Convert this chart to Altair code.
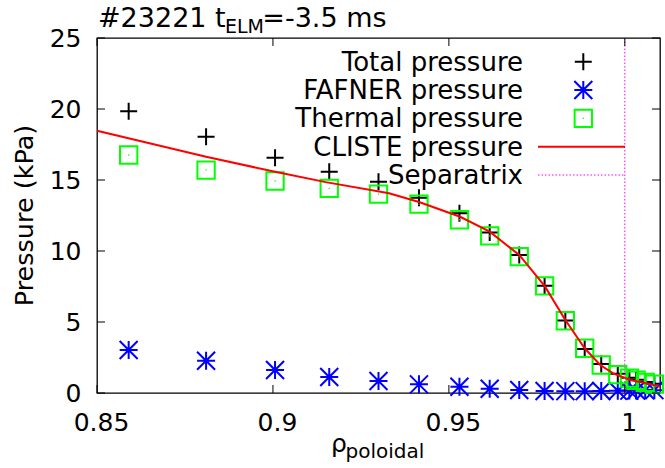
import altair as alt
import pandas as pd

FONT = "DejaVu Sans"

# ---- data ----
rho = [0.859, 0.881, 0.9006, 0.916, 0.930, 0.9415, 0.953, 0.9616, 0.970, 0.9772,
       0.9831, 0.9886, 0.9933, 0.998, 1.0013, 1.0032, 1.0058, 1.0084]
total_p = [19.84, 18.05, 16.57, 15.58, 14.88, 13.75, 12.65, 11.3, 9.72, 7.55,
           5.1, 3.1, 2.05, 1.35, 1.08, 0.93, 0.78, 0.65]
fafner_p = [3.03, 2.27, 1.62, 1.13, 0.85, 0.61, 0.44, 0.30, 0.21, 0.14,
            0.13, 0.13, 0.14, 0.16, 0.17, 0.18, 0.19, 0.2]
thermal_p = [16.76, 15.70, 14.93, 14.41, 14.01, 13.3, 12.2, 11.06, 9.6, 7.54,
             5.09, 3.15, 1.97, 1.3, 1.05, 0.9, 0.75, 0.62]
cliste_rho = [0.85, 0.881, 0.9006, 0.915, 0.933, 0.9415, 0.9532, 0.9616, 0.970,
              0.9772, 0.9831, 0.9886, 0.993, 0.9967, 1.0015, 1.006, 1.01]
cliste_p = [18.47, 16.64, 15.58, 14.85, 14.06, 13.45, 12.41, 11.36, 9.72,
            7.54, 5.14, 3.15, 1.97, 1.38, 0.92, 0.68, 0.45]
separatrix_rho = [1.0]
x_ticks = [0.85, 0.9, 0.95, 1.0]
y_ticks = [0, 5, 10, 15, 20, 25]
legend_names = ["Total pressure", "FAFNER pressure", "Thermal pressure",
                "CLISTE pressure", "Separatrix"]

W, H = 563, 355

xscale = alt.Scale(domain=[0.85, 1.01], nice=False, zero=False)
yscale = alt.Scale(domain=[0, 25], nice=False, zero=True)

xaxis = alt.Axis(values=x_ticks, format="~g", grid=False, ticks=False, domain=False,
                 labelFont=FONT, labelFontSize=25, labelColor="black",
                 labelPadding=17, labelOffset=4, labelFlush=False, labelOverlap=False,
                 title=None)
yaxis = alt.Axis(values=y_ticks, grid=False, ticks=False, domain=False,
                 labelFont=FONT, labelFontSize=25, labelColor="black",
                 labelPadding=16, labelFlush=False, labelOverlap=False,
                 title=None)

CROSS = "M-1,0L1,0M0,-1L0,1"
STAR = "M-1,0L1,0M0,-1L0,1M-1,-1L1,1M-1,1L1,-1"

pts = pd.DataFrame({"rho": rho, "total": total_p, "fafner": fafner_p, "thermal": thermal_p})
line_df = pd.DataFrame({"rho": cliste_rho, "p": cliste_p})

X = alt.X("rho:Q", scale=xscale, axis=xaxis)

total_layer = alt.Chart(pts).mark_point(shape=CROSS, size=289, strokeWidth=2,
                                        color="black", filled=False, opacity=1).encode(
    x=X, y=alt.Y("total:Q", scale=yscale, axis=yaxis))
fafner_layer = alt.Chart(pts).mark_point(shape=STAR, size=324, strokeWidth=2,
                                         color="#0000ff", filled=False, opacity=1).encode(
    x=alt.X("rho:Q", scale=xscale), y=alt.Y("fafner:Q", scale=yscale))
thermal_layer = alt.Chart(pts).mark_point(shape="square", size=300, strokeWidth=2,
                                          color="#00ff00", filled=False, opacity=1).encode(
    x=alt.X("rho:Q", scale=xscale), y=alt.Y("thermal:Q", scale=yscale))
thermal_dot = alt.Chart(pts).mark_point(shape="circle", size=2, filled=True,
                                        color="#00ff00", opacity=1).encode(
    x=alt.X("rho:Q", scale=xscale), y=alt.Y("thermal:Q", scale=yscale))
cliste_layer = alt.Chart(line_df).mark_line(color="#ff0000", strokeWidth=2).encode(
    x=alt.X("rho:Q", scale=xscale), y=alt.Y("p:Q", scale=yscale))
sep_layer = alt.Chart(pd.DataFrame({"rho": separatrix_rho})).mark_rule(
    color="#ff00ff", strokeWidth=1, strokeDash=[1.5, 2]).encode(
    x=alt.X("rho:Q", scale=xscale), y=alt.value(0), y2=alt.value(H))

# inward ticks (all four sides)
xt = pd.DataFrame({"v": x_ticks})
yt = pd.DataFrame({"v": y_ticks})
tick_bottom = alt.Chart(xt).mark_rule(color="black", strokeWidth=1).encode(
    x=alt.X("v:Q", scale=xscale), y=alt.value(H), y2=alt.value(H - 8))
tick_top = alt.Chart(xt).mark_rule(color="black", strokeWidth=1).encode(
    x=alt.X("v:Q", scale=xscale), y=alt.value(0), y2=alt.value(8))
tick_left = alt.Chart(yt).mark_rule(color="black", strokeWidth=1).encode(
    y=alt.Y("v:Q", scale=yscale), x=alt.value(0), x2=alt.value(8))
tick_right = alt.Chart(yt).mark_rule(color="black", strokeWidth=1).encode(
    y=alt.Y("v:Q", scale=yscale), x=alt.value(W), x2=alt.value(W - 8))


def label(text, x, y, size=25, align="left", baseline="alphabetic", angle=0):
    return alt.Chart(pd.DataFrame({"t": [text]})).mark_text(
        font=FONT, fontSize=size, align=align, baseline=baseline, color="black",
        angle=angle).encode(x=alt.value(x), y=alt.value(y), text="t:N")


# title pieces
title_layers = [
    label("#23221 t", 1, -11, size=27),
    label("ELM", 128, -4.7, size=19),
    label("=-3.5 ms", 165.3, -11, size=27),
]
# axis titles
axis_title_layers = [
    label("Pressure (kPa)", -72, H / 2, size=25.5, align="center", baseline="middle",
          angle=270),
    label("\u03c1", 234, 414),
    label("poloidal", 248.5, 419.5, size=20),
]
# legend
leg_y0 = 32.7
leg_dy = 28.3
legend_layers = []
for i, name in enumerate(legend_names):
    legend_layers.append(label(name, 426, leg_y0 + i * leg_dy, size=26, align="right"))

sym_x = 486.3
one = pd.DataFrame({"a": [0]})
legend_layers += [
    alt.Chart(one).mark_point(shape=CROSS, size=289, strokeWidth=2, color="black",
                              filled=False, opacity=1).encode(
        x=alt.value(sym_x), y=alt.value(23.7)),
    alt.Chart(one).mark_point(shape=STAR, size=324, strokeWidth=2, color="#0000ff",
                              filled=False, opacity=1).encode(
        x=alt.value(sym_x), y=alt.value(52)),
    alt.Chart(one).mark_point(shape="square", size=300, strokeWidth=2, color="#00ff00",
                              filled=False, opacity=1).encode(
        x=alt.value(sym_x), y=alt.value(80.3)),
    alt.Chart(one).mark_point(shape="circle", size=2, filled=True, color="#00ff00",
                              opacity=1).encode(
        x=alt.value(sym_x), y=alt.value(80.3)),
    alt.Chart(one).mark_rule(color="#ff0000", strokeWidth=2).encode(
        x=alt.value(441), x2=alt.value(528), y=alt.value(108.7)),
    alt.Chart(one).mark_rule(color="#ff00ff", strokeWidth=1, strokeDash=[1.5, 2]).encode(
        x=alt.value(441), x2=alt.value(528), y=alt.value(137)),
]

chart = alt.layer(
    total_layer, fafner_layer, thermal_layer, thermal_dot, cliste_layer, sep_layer,
    tick_bottom, tick_top, tick_left, tick_right,
    *title_layers, *axis_title_layers, *legend_layers,
).properties(
    width=W, height=H,
    padding={"left": 97, "top": 38, "right": 5, "bottom": 75},
    autosize=alt.AutoSizeParams(type="none"),
    background="white",
).configure_view(stroke="black", strokeWidth=1.3)

chart.save("out.html", embed_options={"renderer": "svg", "actions": False})
